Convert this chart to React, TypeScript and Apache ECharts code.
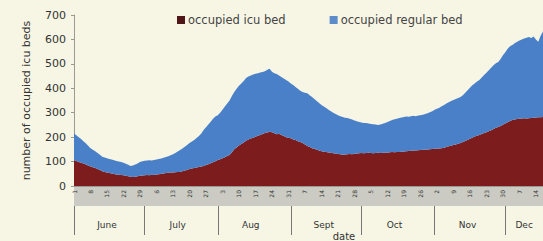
import React, { useEffect, useRef } from "react";
import * as echarts from "echarts";

const startDate = "2020-06-01";
const monthNames: Record<number, string> = { 6: "June", 7: "July", 8: "Aug", 9: "Sept", 10: "Oct", 11: "Nov", 12: "Dec" };
const yTicks = [0, 100, 200, 300, 400, 500, 600, 700];

const icuBeds = [
  105, 102, 98, 95, 92, 88, 84, 80, 77, 74,
  70, 66, 60, 57, 55, 53, 51, 49, 47, 46,
  45, 44, 42, 40, 38, 37, 38, 40, 42, 43,
  44, 45, 44, 46, 45, 47, 48, 50, 51, 53,
  54, 55, 55, 56, 57, 57, 60, 63, 66, 70,
  72, 74, 76, 78, 80, 82, 86, 89, 93, 97,
  101, 106, 110, 114, 118, 123, 127, 138, 150, 158,
  166, 172, 178, 185, 190, 194, 198, 202, 206, 209,
  213, 217, 219, 222, 220, 216, 212, 214, 209, 205,
  200, 198, 195, 190, 188, 183, 180, 176, 170, 164,
  160, 155, 152, 148, 145, 142, 140, 139, 137, 136,
  134, 133, 131, 130, 128, 129, 130, 131, 130, 132,
  133, 134, 135, 134, 135, 136, 135, 134, 135, 136,
  135, 136, 137, 136, 138, 139, 138, 139, 139, 140,
  141, 142, 143, 144, 145, 145, 146, 147, 148, 148,
  149, 150, 151, 152, 153, 154, 155, 157, 160, 163,
  165, 168, 170, 173, 176, 180, 184, 188, 193, 198,
  203, 206, 209, 213, 217, 220, 224, 228, 233, 238,
  242, 246, 251, 256, 261, 266, 270, 272, 274, 275,
  276, 277, 276, 277, 278, 279, 280, 281, 281, 282,
];

const regularBeds = [
  110, 106, 102, 97, 91, 87, 81, 75, 71, 68,
  65, 62, 60, 60, 59, 58, 57, 56, 55, 54,
  53, 51, 49, 47, 44, 47, 50, 52, 56, 58,
  59, 59, 61, 58, 61, 61, 63, 63, 65, 66,
  68, 71, 75, 79, 84, 90, 94, 98, 102, 106,
  110, 114, 120, 127, 135, 147, 154, 163, 170, 178,
  183, 184, 190, 198, 207, 215, 223, 230, 235, 240,
  244, 248, 252, 257, 258, 258, 258, 258, 256, 256,
  254, 253, 257, 258, 248, 246, 246, 238, 237, 235,
  234, 230, 225, 223, 217, 215, 210, 209, 212, 216,
  212, 209, 204, 200, 195, 190, 185, 180, 175, 170,
  166, 162, 159, 156, 154, 150, 148, 144, 142, 136,
  132, 128, 125, 124, 123, 120, 119, 119, 117, 114,
  117, 119, 121, 126, 128, 131, 135, 136, 139, 140,
  141, 142, 140, 142, 143, 141, 143, 143, 144, 147,
  149, 152, 155, 160, 163, 166, 171, 175, 178, 180,
  183, 184, 186, 187, 188, 192, 198, 204, 209, 214,
  217, 222, 225, 231, 237, 244, 250, 256, 261, 264,
  266, 274, 284, 292, 301, 306, 307, 312, 316, 321,
  324, 327, 331, 333, 328, 333, 320, 309, 334, 350,
];

function buildDates(n: number): string[] {
  const out: string[] = [];
  const d0 = new Date(startDate + "T00:00:00Z");
  for (let i = 0; i < n; i++) {
    const d = new Date(d0.getTime() + i * 86400000);
    out.push(d.toISOString().slice(0, 10));
  }
  return out;
}

const dates = buildDates(icuBeds.length);

const dayOf = (v: string) => parseInt(v.slice(8, 10), 10);
const monthOf = (v: string) => parseInt(v.slice(5, 7), 10);

export default function App() {
  const ref = useRef<HTMLDivElement>(null);
  useEffect(() => {
    if (!ref.current) return;
    const chart = echarts.init(ref.current, undefined, { renderer: "svg" });
    const font = "DejaVu Sans, Verdana, sans-serif";
    chart.setOption({
      animation: false,
      backgroundColor: "#f7f6e4",
      textStyle: { fontFamily: font },
      legend: {
        top: 9,
        left: 172,
        itemWidth: 8,
        itemHeight: 8,
        itemGap: 44,
        icon: "rect",
        textStyle: { fontSize: 11.5, color: "#444", fontFamily: font, padding: [0, 0, 0, -2] },
        data: [
          { name: "occupied icu bed", itemStyle: { color: "#4e1616" } },
          { name: "occupied regular bed", itemStyle: { color: "#5d8cca" } },
        ],
      },
      grid: { left: 74, right: 0, top: 15, bottom: 55, containLabel: false },
      xAxis: [
        {
          type: "category",
          data: dates,
          boundaryGap: false,
          axisLine: { show: true, lineStyle: { color: "#9a9a92", width: 1 } },
          axisTick: { show: false },
          axisLabel: {
            interval: (i: number) => i % 7 === 0,
            formatter: (v: string) => String(dayOf(v)),
            rotate: 90,
            fontSize: 6,
            margin: 4,
            color: "#333",
            fontFamily: font,
            showMinLabel: true,
          },
        },
        {
          type: "category",
          data: dates,
          boundaryGap: false,
          position: "bottom",
          offset: 20,
          axisLine: { show: false },
          axisTick: {
            show: true,
            interval: (_i: number, v: string) => dayOf(v) === 1,
            length: 29,
            lineStyle: { color: "#777", width: 1 },
          },
          axisLabel: {
            interval: (_i: number, v: string) => (monthOf(v) === 12 ? dayOf(v) === 9 : dayOf(v) === 15),
            formatter: (v: string) => monthNames[monthOf(v)] || "",
            fontSize: 9,
            margin: 14,
            color: "#333",
            fontFamily: font,
          },
        },
      ],
      yAxis: {
        type: "value",
        min: yTicks[0],
        max: yTicks[yTicks.length - 1],
        interval: 100,
        name: "number of occupied icu beds",
        nameLocation: "middle",
        nameGap: 42,
        nameTextStyle: { fontSize: 11, color: "#333", fontFamily: font },
        axisLine: { show: true, lineStyle: { color: "#9a9a92" } },
        axisTick: { show: true, length: 3, lineStyle: { color: "#9a9a92" } },
        axisLabel: { fontSize: 11, color: "#333", margin: 8, fontFamily: font },
        splitLine: { show: false },
      },
      graphic: [
        {
          type: "rect",
          z: -1,
          shape: { x: 74, y: 187, width: 469, height: 19 },
          style: { fill: "#cbcbc3" },
        },
        {
          type: "text",
          x: 344,
          y: 231,
          style: { text: "date", fontSize: 10, fill: "#333", fontFamily: font, textAlign: "center" },
        },
      ],
      series: [
        {
          name: "occupied icu bed",
          type: "line",
          stack: "beds",
          data: icuBeds,
          symbol: "none",
          color: "#7d1c1c",
          lineStyle: { width: 0 },
          areaStyle: { color: "#7d1c1c", opacity: 1 },
        },
        {
          name: "occupied regular bed",
          type: "line",
          stack: "beds",
          data: regularBeds,
          symbol: "none",
          color: "#4a80c8",
          lineStyle: { width: 0 },
          areaStyle: { color: "#4a80c8", opacity: 1 },
        },
      ],
    });
    return () => chart.dispose();
  }, []);
  return (
    <div
      ref={ref}
      style={{ position: "absolute", left: 0, top: 0, width: 543, height: 241 }}
    />
  );
}
